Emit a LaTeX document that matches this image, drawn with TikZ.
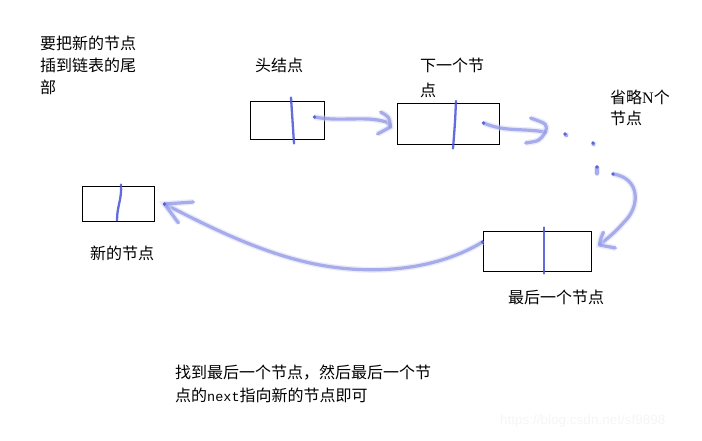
\documentclass[tikz,border=0pt]{standalone}
\usepackage{fontspec}
\newfontfamily\cjk{Noto Sans CJK SC}
\newfontfamily\latinserif{Liberation Serif}
\newfontfamily\latinmono{Liberation Mono}
\newfontfamily\urlfont{Liberation Sans}
\usetikzlibrary{positioning, calc}
\definecolor{penblue}{RGB}{70,82,215}

\begin{document}
\begin{tikzpicture}[
  x=1pt, y=-1pt,
  every node/.style = {inner sep=0pt, font=\cjk\fontsize{16}{22}\selectfont},
  txt/.style = {anchor=west, align=left},
  box/.style = {draw, line width=1pt, minimum width=#1},
  bar/.style = {draw=penblue, line width=2.3pt, line cap=round, opacity=.85},
  pen/.style = {draw=penblue!60, line width=3.2pt, line cap=round, line join=round, opacity=.75,
                preaction={draw=penblue!25, line width=6pt, opacity=.45}},
  nib/.style = {fill=penblue, opacity=.8}
]
\useasboundingbox (0,0) rectangle (702,440);

% --- texts
\node[txt] (intro) at (40,65.5) {要把新的节点\\插到链表的尾\\部};
\node[txt] (headlbl) at (255,65.5) {头结点};
\node[txt, font=\cjk\fontsize{16}{25}\selectfont] (nextlbl) at (420,77.5) {下一个节\\点};
\node[txt, font=\cjk\fontsize{16}{21}\selectfont] (skiplbl) at (610,107.5) {省略{\latinserif N}个\\节点};
\node[txt] (newlbl) at (90,253) {新的节点};
\node[txt] (lastlbl) at (508,297) {最后一个节点};
\node[txt, font=\cjk\fontsize{16}{23}\selectfont] (note) at (175,383.5)
  {找到最后一个节点，然后最后一个节\\点的{\latinmono\fontsize{13.5}{23}\selectfont next}指向新的节点即可};
\node[txt, font=\urlfont\fontsize{13.5}{16}\selectfont, text=black!4] (mark) at (500,421) {https://blog.csdn.net/sf9898};

% --- boxes
\node[box=74pt, minimum height=38pt] (head) at (287,120) {};
\node[box=102pt, minimum height=41pt] (nextnode) at (448,123.5) {};
\node[box=72pt, minimum height=35pt] (newnode) at (118,203.5) {};
\node[box=108pt, minimum height=40pt] (lastnode) at (537,251) {};

% --- next-field dividers
\draw[bar] ($(head.north)+(4,-3)$) .. controls ($(head.center)+(5,0)$) .. ($(head.south)+(7,4)$);
\draw[bar] ($(nextnode.north)+(8,-1.5)$) .. controls ($(nextnode.center)+(7,0)$) .. ($(nextnode.south)+(5,4)$);
\draw[bar] ($(newnode.north)+(3,-1)$) .. controls ($(newnode.center)+(4,-4)$) and ($(newnode.center)+(-1,2)$) .. ($(newnode.south)+(-1,-1)$);
\draw[bar] ($(lastnode.north)+(7,-3)$) -- ($(lastnode.south)+(7,2)$);

% --- tips, starts and dots
\coordinate (t1) at ($(nextnode.west)+(-6,3.5)$);
\coordinate (t2) at ($(nextnode.east)+(46,8.5)$);
\coordinate (t4) at ($(lastnode.east)+(8,-6)$);
\coordinate (t5) at ($(newnode.east)+(10,0.5)$);
\coordinate (s1) at ($(head.east)+(-10,-3)$);
\coordinate (s2) at ($(nextnode.east)+(-16,-0.5)$);
\coordinate (s4) at (613,174);
\coordinate (s5) at ($(lastnode.west)+(0,-9)$);
\coordinate (d1) at (565,134);
\coordinate (d2) at (593,143);
\coordinate (d3) at (597,167);

% --- head -> next
\draw[pen] (s1) .. controls (340,122) and (362,116) .. ($(t1)+(-8,-6)$) .. controls ($(t1)+(-3,-5)$) .. (t1);
\draw[pen] ($(t1)+(-10,-15)$) .. controls ($(t1)+(-1,-10)$) .. (t1) -- ($(t1)+(-13,7)$);

% --- next -> ...
\draw[pen] (s2) .. controls (505,132) and (520,128) .. (t2);
\draw[pen] ($(t2)+(-15,-14)$) .. controls ($(t2)+(2,-8)$) .. (t2) .. controls ($(t2)+(-6,9)$) .. ($(t2)+(-20,11)$);

% --- dots
\draw[pen] (d1) -- ++(2,2);
\draw[pen] (d2) -- ++(1,2);
\draw[pen] (d3) -- ++(0,7);

% --- ... -> last
\draw[pen] (s4) .. controls (640,178) and (640,205) .. (626,220) .. controls (615,232) .. (t4);
\draw[pen] ($(t4)+(4,-13)$) .. controls ($(t4)+(1,-6)$) .. (t4) -- ($(t4)+(16,3)$);

% --- last -> new
\draw[pen] (s5) .. controls (440,268) and (380,276) .. (320,265) .. controls (260,254) and (200,222) .. (t5);
\draw[pen] ($(t5)+(29,-2)$) -- (t5) -- ($(t5)+(14,19)$);

% --- pen-down marks
\foreach \p in {s1, s2, s4, s5, t5, d1, d2, d3}
  \fill[nib] (\p) circle (1.8pt);

\end{tikzpicture}
\end{document}
